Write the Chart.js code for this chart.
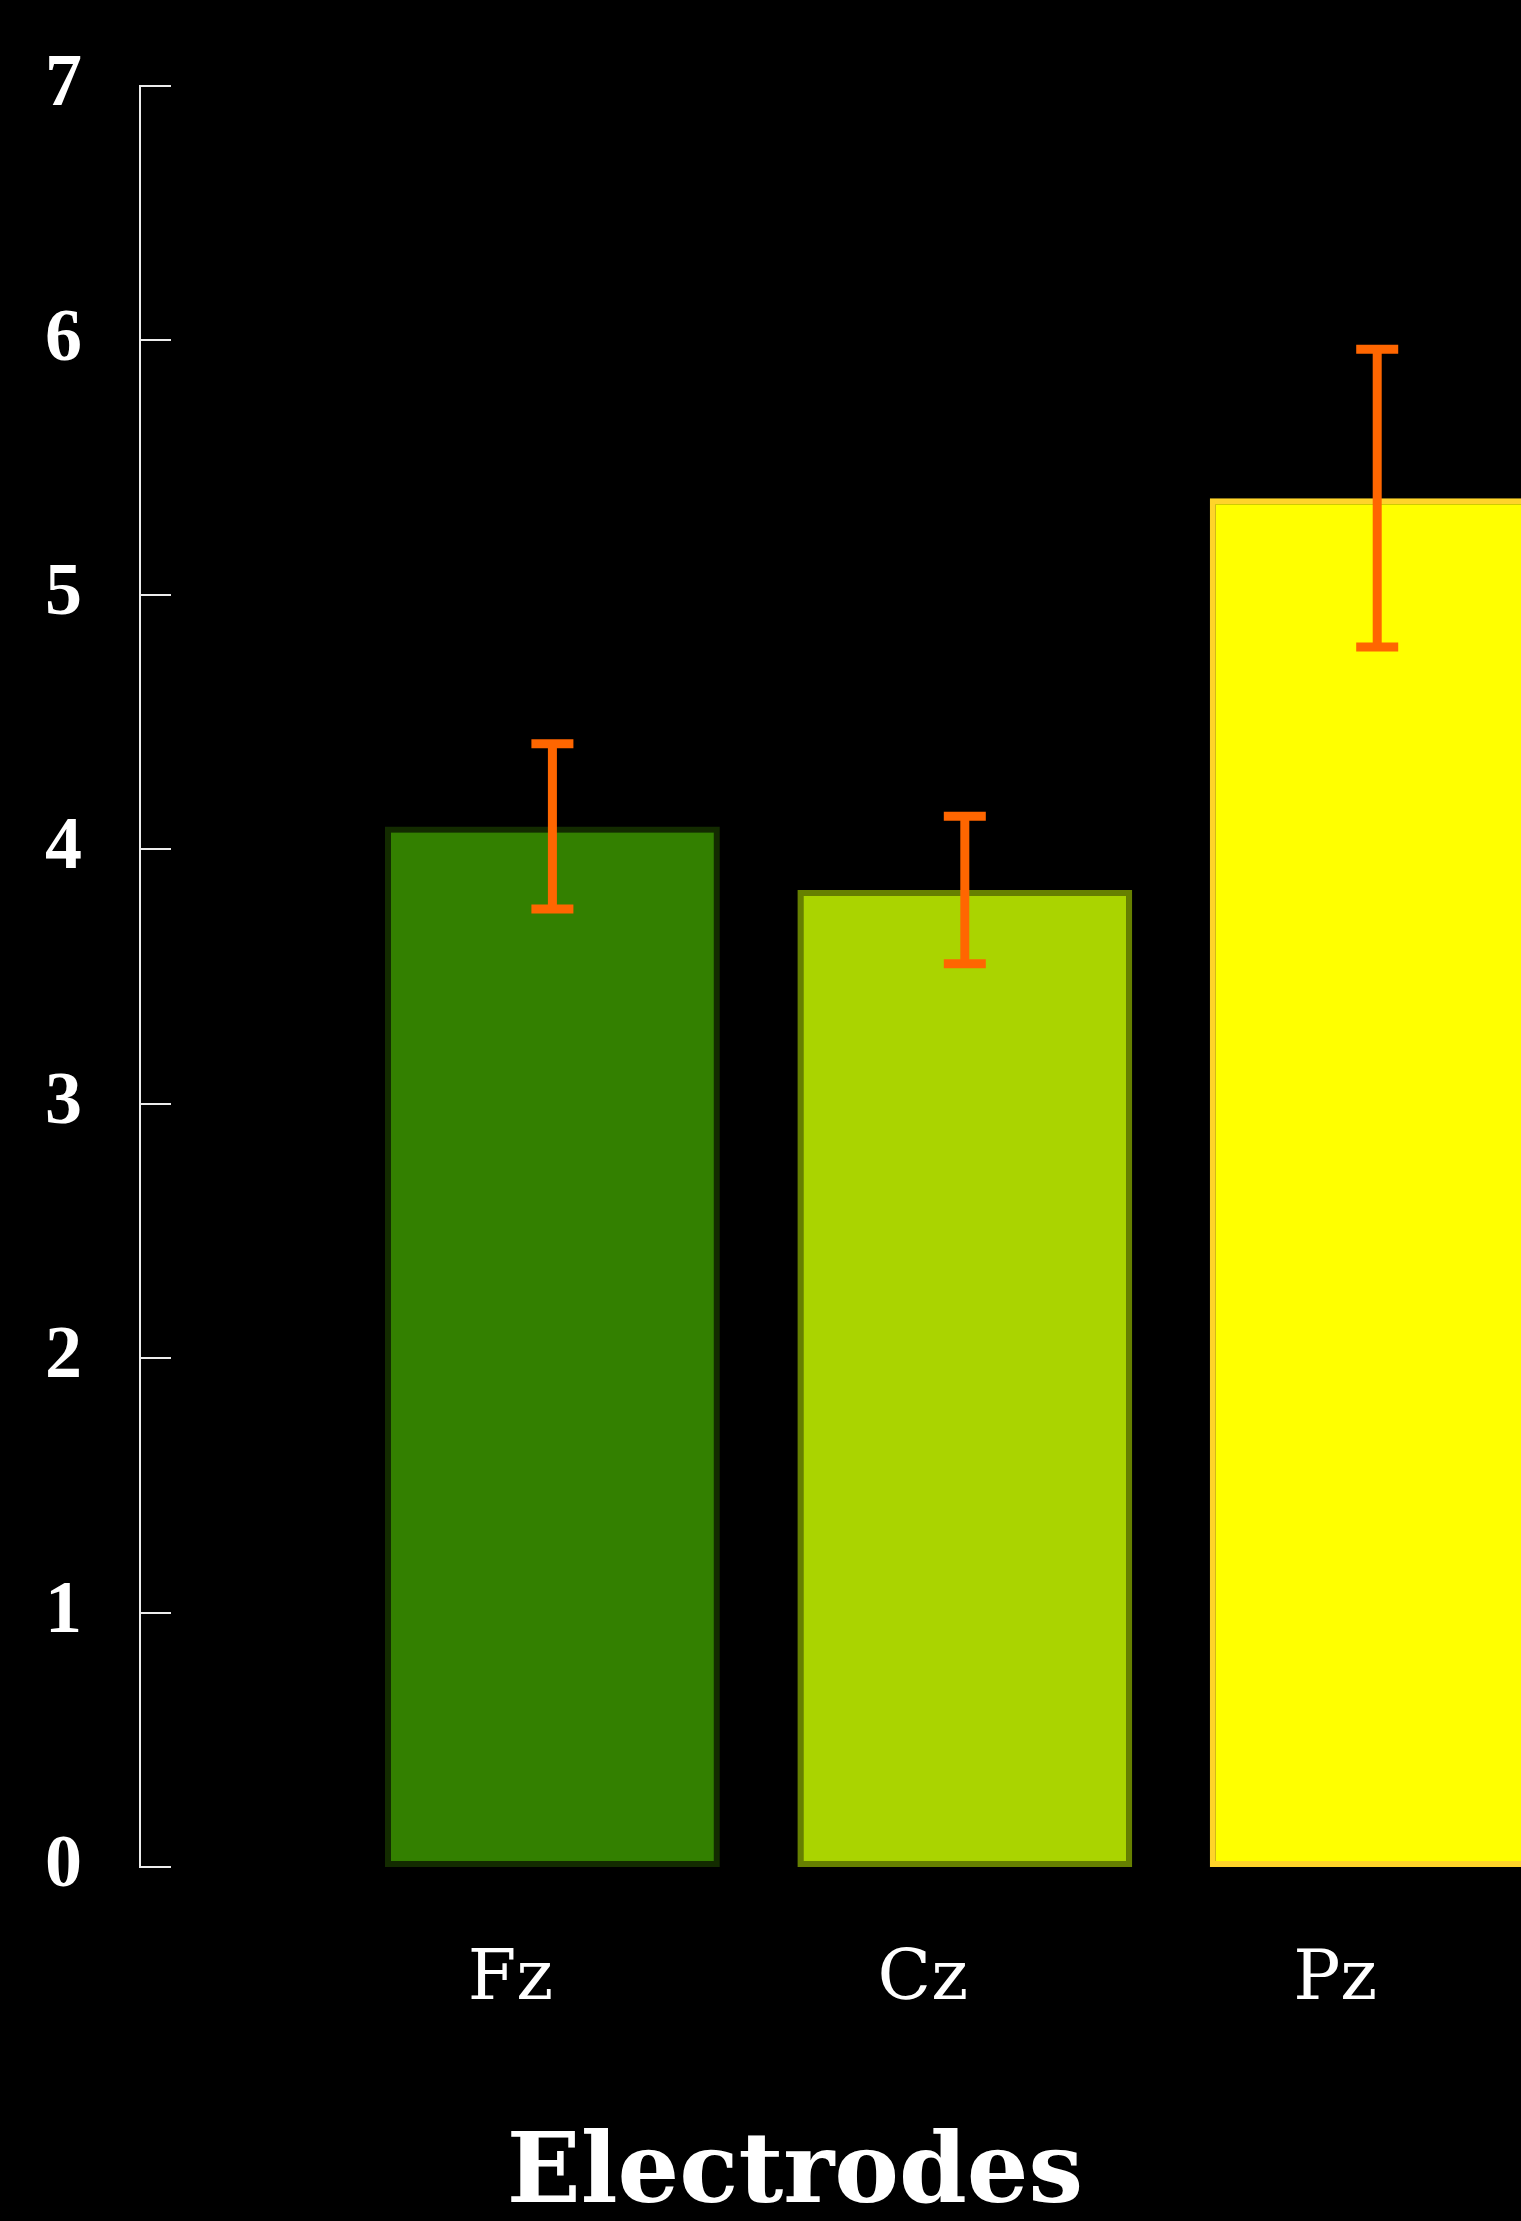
<!DOCTYPE html>
<html>
<head>
<meta charset="utf-8">
<title>Electrodes</title>
<script src="https://cdn.jsdelivr.net/npm/chart.js"></script>
<style>
    html, body { margin: 0; padding: 0; background: #000; overflow: hidden; }
    canvas { display: block; }
</style>
</head>
<body>
<canvas id="electrodeChart" width="1521" height="2221"></canvas>
<script>
// Mean amplitude per electrode, with the half-length of each error bar
const electrodes = ['Fz', 'Cz', 'Pz'];
const meanValues = [4.09, 3.84, 5.38];
const errorValues = [0.325, 0.29, 0.585];
const barColors = ['#338000', '#aad400', '#ffff00'];
const barBorders = ['#132b00', '#668000', '#ffd42a'];

// Short tick marks pointing into the plot from the y axis
const innerTicks = {
    id: 'innerTicks',
    afterDraw: (chart) => {
        const { ctx, chartArea } = chart;
        const y = chart.scales.y;
        ctx.save();
        ctx.strokeStyle = '#ececec';
        ctx.lineWidth = 2;
        y.ticks.forEach(t => {
            const py = Math.round(y.getPixelForValue(t.value));
            ctx.beginPath();
            ctx.moveTo(chartArea.left, py);
            ctx.lineTo(chartArea.left + 31, py);
            ctx.stroke();
        });
        ctx.restore();
    }
};

// Error bars with flat caps, drawn over the bars
const errorBars = {
    id: 'errorBars',
    afterDatasetsDraw: (chart) => {
        const { ctx } = chart;
        const y = chart.scales.y;
        const bars = chart.getDatasetMeta(0).data;
        ctx.save();
        ctx.strokeStyle = '#ff6600';
        ctx.lineWidth = 9;
        ctx.lineCap = 'butt';
        bars.forEach((bar, i) => {
            const top = y.getPixelForValue(meanValues[i] + errorValues[i]);
            const bottom = y.getPixelForValue(meanValues[i] - errorValues[i]);
            ctx.beginPath();
            ctx.moveTo(bar.x, top);
            ctx.lineTo(bar.x, bottom);
            ctx.moveTo(bar.x - 21, top);
            ctx.lineTo(bar.x + 21, top);
            ctx.moveTo(bar.x - 21, bottom);
            ctx.lineTo(bar.x + 21, bottom);
            ctx.stroke();
        });
        ctx.restore();
    }
};

new Chart(document.getElementById('electrodeChart'), {
    type: 'bar',
    data: {
        datasets: [{
            data: electrodes.map((e, i) => ({ x: i, y: meanValues[i] })),
            backgroundColor: barColors,
            borderColor: barBorders,
            borderWidth: 6,
            borderSkipped: false,
            barPercentage: 0.812,
            categoryPercentage: 1,
            clip: false
        }]
    },
    options: {
        responsive: false,
        animation: false,
        layout: { padding: { top: 86, right: 71, bottom: 0, left: 0 } },
        plugins: {
            legend: { display: false },
            tooltip: { enabled: false }
        },
        scales: {
            x: {
                type: 'linear',
                offset: false,
                min: -1,
                max: 2.1765,
                grid: { display: false, drawTicks: false, offset: false },
                border: { display: false },
                ticks: {
                    stepSize: 1,
                    autoSkip: false,
                    includeBounds: false,
                    maxRotation: 0,
                    padding: 72,
                    labelOffset: -42,
                    color: '#ffffff',
                    font: { family: '"DejaVu Serif"', size: 70 },
                    callback: (v) => electrodes[v] ?? ''
                },
                title: {
                    display: true,
                    text: 'Electrodes',
                    color: '#ffffff',
                    padding: { top: 0, bottom: 0 },
                    font: { family: '"DejaVu Serif"', size: 97, weight: 'bold', lineHeight: 0.91 }
                },
                afterFit: (scale) => { scale.height = 354; }
            },
            y: {
                min: 0,
                max: 7,
                grid: { display: false, drawTicks: false },
                border: { display: true, color: '#ececec', width: 2 },
                ticks: {
                    stepSize: 1,
                    padding: 58,
                    color: '#ffffff',
                    font: { family: '"Liberation Serif"', size: 74, weight: 'bold' }
                },
                afterFit: (scale) => {
                    scale.width = 140;
                    scale.paddingTop = 0;
                    scale.paddingBottom = 0;
                }
            }
        }
    },
    plugins: [innerTicks, errorBars]
});
</script>
</body>
</html>
